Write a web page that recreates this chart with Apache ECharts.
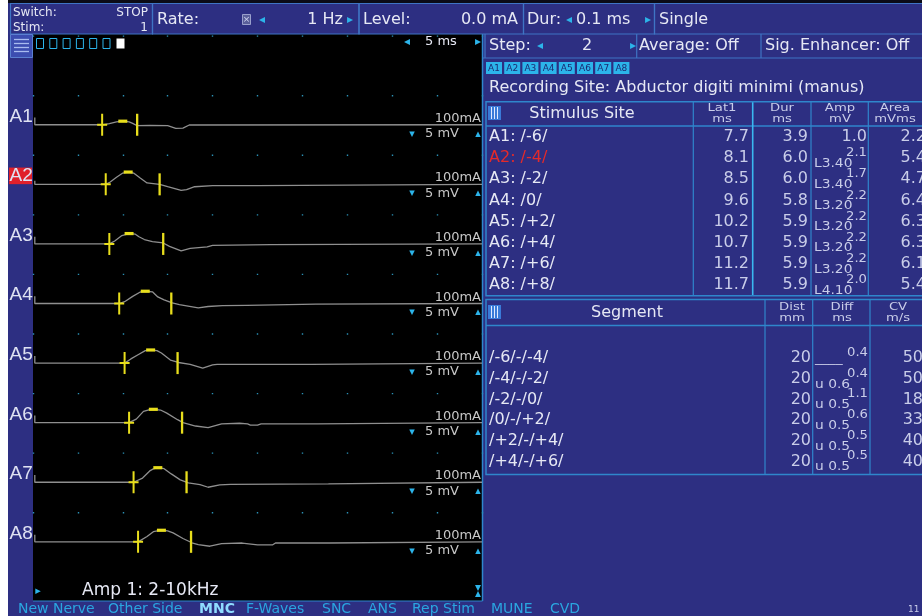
<!DOCTYPE html>
<html>
<head>
<meta charset="utf-8">
<script src="https://cdn.jsdelivr.net/npm/echarts/dist/echarts.min.js"></script>
<style>
html,body{margin:0;padding:0;background:#ffffff;}
#chart{width:922px;height:616px;}
</style>
</head>
<body>
<div id="chart"></div>
<script>
// ---- Sweep settings ----
const sweepMsPerDiv = 5;      // "5 ms" per horizontal division
const sensMvPerDiv = 5;       // "5 mV" per vertical division
const sweepDivs = 10;

// ---- Channels and measurement table ----
const channels   = ['A1', 'A2', 'A3', 'A4', 'A5', 'A6', 'A7', 'A8'];
const stimSites  = ['A1: /-6/', 'A2: /-4/', 'A3: /-2/', 'A4: /0/', 'A5: /+2/', 'A6: /+4/', 'A7: /+6/', 'A8: /+8/'];
const lat1       = [7.7, 8.1, 8.5, 9.6, 10.2, 10.7, 11.2, 11.7];
const dur        = [3.9, 6.0, 6.0, 5.8, 5.9, 5.9, 5.9, 5.9];
const amp        = [1.0, 2.1, 1.7, 2.2, 2.2, 2.2, 2.2, 2.0];
const ampLevel   = ['', 'L3.40', 'L3.40', 'L3.20', 'L3.20', 'L3.20', 'L3.20', 'L4.10'];
const areaVals   = [2.2, 5.4, 4.7, 6.4, 6.3, 6.3, 6.1, 5.4];
const activeChannel = 1;

// ---- Segment table ----
const segments   = ['/-6/-/-4/', '/-4/-/-2/', '/-2/-/0/', '/0/-/+2/', '/+2/-/+4/', '/+4/-/+6/'];
const segDist    = [20, 20, 20, 20, 20, 20];
const segDiff    = [0.4, 0.4, 1.1, 0.6, 0.5, 0.5];
const segDiffSub = ['____', 'u 0.6', 'u 0.5', 'u 0.5', 'u 0.5', 'u 0.5'];
const segCV      = [50, 50, 18, 33, 40, 40];

// ---- Menu ----
const menuItems  = ['New Nerve', 'Other Side', 'MNC', 'F-Waves', 'SNC', 'ANS', 'Rep Stim', 'MUNE', 'CVD'];
const menuX      = [18, 108, 199, 246, 322, 368, 412, 491, 550];

// ---- Recorded waveforms: [time ms, mV] ----
const waveA1 = [[0.2,0.6],[0.2,0],[7.7,0],[8.5,0.1],[9.3,0.25],[10.0,0.3],[10.7,0.24],[11.1,0.12],[11.6,-0.08],[13.0,-0.05],[15.0,-0.08],[15.9,-0.3],[16.7,-0.28],[17.4,-0.02],[50,0]];
const waveA2 = [[0.2,0.3],[0.2,0],[8.1,0],[8.6,0.2],[9.3,0.6],[10.0,0.95],[10.6,1.03],[11.2,0.95],[11.9,0.55],[12.7,0.12],[14.1,0],[15.0,-0.2],[16.5,-0.5],[17.1,-0.45],[18.0,-0.2],[20.0,-0.1],[25.0,-0.1],[25.2,0],[50,0]];
const waveA3 = [[0.2,0.6],[0.2,0],[8.5,0],[9.1,0.25],[9.9,0.7],[10.7,0.87],[11.4,0.82],[11.8,0.6],[12.4,0.37],[13.3,0.2],[14.5,0.08],[15.2,-0.2],[16.5,-0.58],[17.5,-0.38],[19.4,-0.25],[20.0,-0.12],[26.5,-0.05],[26.6,0],[50,0]];
const waveA4 = [[0.2,0.6],[0.2,0],[9.6,0],[10.2,0.15],[11.1,0.6],[11.9,0.95],[12.5,1.03],[13.3,0.98],[13.9,0.55],[14.6,0.3],[15.5,0.05],[16.3,-0.1],[18.4,-0.36],[19.5,-0.25],[21.1,-0.18],[23.8,-0.15],[24.0,-0.06],[31.5,-0.06],[31.6,0],[50,0]];
const waveA5 = [[0.2,0.6],[0.2,0],[10.2,0],[10.9,0.35],[11.7,0.7],[12.5,1.05],[13.1,1.1],[13.8,1.05],[14.3,0.85],[15.3,0.25],[16.2,0.05],[17.5,-0.1],[18.9,-0.42],[20.0,-0.15],[20.5,-0.1],[31.0,-0.1],[31.1,0],[50,0]];
const waveA6 = [[0.2,0.6],[0.2,0],[10.7,0],[11.5,0.3],[12.3,0.95],[12.9,1.08],[13.4,1.12],[14.2,1.06],[14.9,0.8],[16.1,0.25],[16.7,0],[18.1,-0.28],[19.5,-0.42],[21.0,-0.1],[23.0,-0.05],[23.9,-0.1],[24.2,-0.2],[25.0,-0.2],[25.4,-0.1],[31.7,-0.1],[31.8,0],[50,0]];
const waveA7 = [[0.2,0.6],[0.2,0],[11.2,0],[12.2,0.35],[13.0,0.95],[13.4,1.12],[13.9,1.22],[14.6,1.14],[15.4,0.7],[16.4,0.2],[17.3,-0.05],[18.6,-0.2],[19.5,-0.42],[20.8,-0.22],[22.0,-0.18],[32.9,-0.14],[33.0,0],[50,0]];
const waveA8 = [[0.2,0.6],[0.2,0],[11.7,0],[12.7,0.45],[13.4,0.85],[14.0,0.95],[14.3,0.97],[15.0,0.92],[15.6,0.75],[16.7,0.28],[17.7,-0.08],[18.4,-0.23],[19.7,-0.37],[21.0,-0.15],[23.3,-0.1],[25.0,-0.25],[26.7,-0.25],[27.0,-0.1],[33.0,-0.1],[33.1,0],[50,0]];
const waves = [waveA1, waveA2, waveA3, waveA4, waveA5, waveA6, waveA7, waveA8];

// ---- Layout / styling ----
const BLUE = '#2d2f82', LINE = '#2f86cc', BOX = '#3f74c4', TXT = '#e6e8f4', SUB = '#c9cde9';
const CYAN = '#2cb4ea', YEL = '#e8de1c', TRACE = '#8f8f8f', FONT = '"DejaVu Sans"';
const PL = 33, PW = 449, GTOP = 35.4, ROW = 59.58;

const els = [];
function T(x, y, s, o) {
  o = o || {};
  const font = (o.weight ? o.weight + ' ' : '') + (o.size || 16) + 'px ' + (o.family || FONT);
  els.push({type: 'text', x: x, y: y, z: o.z || 50, scaleX: o.sx || 1, silent: true,
    style: {text: s, fill: o.fill || TXT, font: font,
      align: o.align || 'left', verticalAlign: 'middle',
      textAlign: o.align || 'left', textVerticalAlign: 'middle'}});
}
function R(x, y, w, h, fill, o) {
  o = o || {};
  els.push({type: 'rect', z: o.z == null ? -20 : o.z, silent: true,
    shape: {x: x, y: y, width: w, height: h},
    style: {fill: fill || 'none', stroke: o.stroke || null, lineWidth: o.lw || 1}});
}
function L(x1, y1, x2, y2, stroke, lw, z) {
  els.push({type: 'line', z: z == null ? -5 : z, silent: true,
    shape: {x1: x1, y1: y1, x2: x2, y2: y2}, style: {stroke: stroke, lineWidth: lw || 1}});
}

// Frame and panels
R(8, 0, 914, 4, '#0b0b16', {z: -30});
R(8, 3, 914, 613, BLUE, {z: -30});
R(PL, 34, 449.5, 567, '#000000', {z: -25});
L(482.5, 34, 482.5, 601, LINE, 1.5);
L(33, 601, 482.5, 601, LINE, 1.2);

// Top control bar
[[10, 152], [152, 358.5], [358.5, 523], [523, 654], [654, 923]].forEach(function (b) {
  R(b[0] + 0.5, 3.5, b[1] - b[0], 30.5, null, {stroke: BOX, lw: 1.2, z: -4});
});
T(13, 13, 'Switch:', {size: 12});
T(148, 13, 'STOP', {size: 12, align: 'right'});
T(13, 28, 'Stim:', {size: 12});
T(148, 28, '1', {size: 12, align: 'right'});
T(157, 20, 'Rate:', {size: 16});
R(242.5, 14.5, 8, 10, '#5a5f9a', {stroke: '#9aa0cc', z: 5});
T(246.5, 19.5, '×', {size: 9, align: 'center', fill: '#cfd3f0'});
T(262, 20, '◂', {size: 12, fill: CYAN, align: 'center'});
T(343, 20, '1 Hz', {size: 16, align: 'right'});
T(350, 20, '▸', {size: 12, fill: CYAN, align: 'center'});
T(363, 20, 'Level:', {size: 16});
T(518, 20, '0.0 mA', {size: 16, align: 'right'});
T(527, 20, 'Dur:', {size: 16});
T(569, 20, '◂', {size: 12, fill: CYAN, align: 'center'});
T(576, 20, '0.1 ms', {size: 16});
T(648, 20, '▸', {size: 12, fill: CYAN, align: 'center'});
T(659, 20, 'Single', {size: 16});

// Second row: menu icon, buffers, sweep
R(10.5, 34.5, 22, 23, '#3c4db0', {stroke: '#5b7fd0', z: -4});
[39, 43, 47, 51].forEach(function (y) { L(14, y + 0.5, 29, y + 0.5, '#a9bbef', 1.3, 5); });
for (let k = 0; k < 6; k++) R(36.5 + 13.3 * k, 38.5, 7, 10, null, {stroke: CYAN, lw: 1, z: 5});
R(116.5, 38.5, 8, 10, '#ffffff', {z: 5});
T(407, 42, '◂', {size: 12, fill: CYAN, align: 'center'});
T(425, 42, sweepMsPerDiv + ' ms', {size: 13});
T(478, 42, '▸', {size: 12, fill: CYAN, align: 'center'});

// Right panel header rows
L(483, 58, 922, 58, BOX, 1.2);
[485, 636.7, 761].forEach(function (x) { L(x, 34, x, 58, BOX, 1.2); });
T(489, 46, 'Step:', {size: 16});
T(540, 46, '◂', {size: 12, fill: CYAN, align: 'center'});
T(587, 46, '2', {size: 16, align: 'center'});
T(633, 46, '▸', {size: 12, fill: CYAN, align: 'center'});
T(639, 46, 'Average: Off', {size: 16});
T(765, 46, 'Sig. Enhancer: Off', {size: 16});
channels.forEach(function (c, i) {
  R(486 + 18.2 * i, 62, 16, 12, CYAN, {z: 2});
  T(494 + 18.2 * i, 68.5, c, {size: 9, align: 'center', fill: '#1c2a72'});
});
T(489, 88, 'Recording Site: Abductor digiti minimi (manus)', {size: 16});

// Stimulus table
function gridIcon(y) {
  R(488, y, 13, 14, '#3a7ad8', {z: 3});
  [491.5, 494.5, 497.5].forEach(function (x) { L(x, y + 1, x, y + 13, '#dfe8ff', 1, 4); });
}
R(486, 101.7, 440, 194, null, {stroke: LINE, lw: 1.5, z: -4});
L(486, 126, 922, 126, LINE, 1.5);
[693.3, 811, 868.3].forEach(function (x) { L(x, 101.7, x, 295.7, LINE, 1.2); });
L(752.7, 101.7, 752.7, 295.7, '#3ab8f0', 1.6);
gridIcon(106);
T(582, 114, 'Stimulus Site', {size: 16, align: 'center'});
[['Lat1', 'ms', 722], ['Dur', 'ms', 782], ['Amp', 'mV', 840], ['Area', 'mVms', 895]].forEach(function (h) {
  T(h[2], 108, h[0], {size: 11, align: 'center', fill: SUB, sx: 1.2});
  T(h[2], 119.5, h[1], {size: 11, align: 'center', fill: SUB, sx: 1.2});
});
stimSites.forEach(function (s, i) {
  const y = 136.8 + 21.2 * i;
  const col = i === activeChannel ? '#e52a2a' : TXT;
  T(489, y, s, {size: 16, fill: col});
  T(749, y, lat1[i].toFixed(1), {size: 16, align: 'right', fill: SUB});
  T(808, y, dur[i].toFixed(1), {size: 16, align: 'right', fill: SUB});
  if (ampLevel[i]) {
    T(867, y - 5, amp[i].toFixed(1), {size: 12, align: 'right', fill: SUB, sx: 1.1});
    T(814, y + 5.5, ampLevel[i], {size: 12, fill: SUB, sx: 1.15});
  } else {
    T(867, y, amp[i].toFixed(1), {size: 16, align: 'right', fill: SUB});
  }
  T(926, y, areaVals[i].toFixed(1), {size: 16, align: 'right', fill: SUB});
});

// Segment table
R(486, 299.5, 440, 175, null, {stroke: LINE, lw: 1.5, z: -4});
L(486, 325.5, 922, 325.5, LINE, 1.5);
[765, 812.7, 870].forEach(function (x) { L(x, 299.5, x, 474.5, LINE, 1.2); });
gridIcon(305);
T(627, 312.5, 'Segment', {size: 16, align: 'center'});
[['Dist', 'mm', 792], ['Diff', 'ms', 842], ['CV', 'm/s', 898]].forEach(function (h) {
  T(h[2], 307, h[0], {size: 11, align: 'center', fill: SUB, sx: 1.2});
  T(h[2], 318.5, h[1], {size: 11, align: 'center', fill: SUB, sx: 1.2});
});
segments.forEach(function (s, i) {
  const y = 358.3 + 20.68 * i;
  T(489, y, s, {size: 16});
  T(811, y, String(segDist[i]), {size: 16, align: 'right', fill: SUB});
  T(868, y - 5.5, segDiff[i].toFixed(1), {size: 12, align: 'right', fill: SUB, sx: 1.1});
  const sub = segDiffSub[i];
  T(815, y + (sub.indexOf('_') === 0 ? 1 : 5.5), sub, {size: 12, fill: SUB, sx: 1.15});
  T(923, y, String(segCV[i]), {size: 16, align: 'right', fill: SUB});
});

// Trace row labels and per-channel settings
channels.forEach(function (c, i) {
  const base = GTOP + ROW * (i + 1) + ROW / 2;
  if (i === activeChannel) R(9, base - 16.8, 23, 16.6, '#e0202a', {z: 2});
  T(9.5, base - 8.3, c, {size: 19, family: '"Liberation Sans"', fill: '#dfe2f2'});
  T(481, base - 6.3, '100mA', {size: 13, align: 'right', fill: '#c8c8c8'});
  T(412, base + 9, '▾', {size: 11, align: 'center', fill: CYAN});
  T(425, base + 9, sensMvPerDiv + ' mV', {size: 13, fill: '#c8c8c8'});
  T(478, base + 9, '▴', {size: 11, align: 'center', fill: CYAN});
});
T(38, 591, '▸', {size: 11, fill: CYAN, align: 'center'});
T(82, 591, 'Amp 1: 2-10kHz', {size: 17});
els.push({type: 'polygon', z: 40, silent: true, shape: {points: [[475, 585], [481, 585], [478, 591], [481, 597], [475, 597], [478, 591]]}, style: {fill: CYAN}});

// Bottom menu
menuItems.forEach(function (m, i) {
  const bold = m === 'MNC';
  T(menuX[i], 609, m, {size: 14, fill: bold ? '#8fdcff' : '#2aa6e0', weight: bold ? 'bold' : null});
});
T(908, 610, '11', {size: 9, fill: '#c8cce8'});

// ---- Axes, grids and series ----
const grids = [{left: PL, top: GTOP, width: PW, height: ROW * 9}];
const xAxes = [{
  type: 'value', gridIndex: 0, min: 0, max: sweepMsPerDiv * sweepDivs, interval: sweepMsPerDiv,
  axisLine: {show: false}, axisTick: {show: false}, axisLabel: {show: false},
  splitLine: {show: true, lineStyle: {color: '#2a8fb4', width: 1.4, type: [1.4, ROW - 1.4]}}
}];
const yAxes = [{type: 'value', gridIndex: 0, min: 0, max: 9, show: false, splitLine: {show: false}}];
const series = [];

// Peak of the response: highest sample after the onset latency
function peakOf(w, onset) {
  let best = null;
  w.forEach(function (p) {
    if (p[0] >= onset && (best === null || p[1] > best[1])) best = p;
  });
  return best;
}

waves.forEach(function (w, i) {
  const g = i + 1;
  grids.push({left: PL, top: GTOP + ROW * (i + 1), width: PW, height: ROW});
  xAxes.push({type: 'value', gridIndex: g, min: 0, max: sweepMsPerDiv * sweepDivs, show: false});
  yAxes.push({type: 'value', gridIndex: g, min: -sensMvPerDiv / 2, max: sensMvPerDiv / 2, show: false});
  series.push({
    type: 'line', xAxisIndex: g, yAxisIndex: g, data: w, showSymbol: false, z: 5,
    lineStyle: {color: TRACE, width: 1.3}, silent: true, animation: false
  });
  series.push({
    type: 'scatter', xAxisIndex: g, yAxisIndex: g, z: 6, silent: true, animation: false,
    itemStyle: {color: YEL, opacity: 1},
    data: [
      {value: [lat1[i], 0], symbol: 'path://M4,0h2v10h4v2h-4v10h-2v-10h-4v-2h4z', symbolSize: [10, 22]},
      {value: peakOf(w, lat1[i]), symbol: 'rect', symbolSize: [9, 3.2]},
      {value: [lat1[i] + dur[i], 0], symbol: 'rect', symbolSize: [2.3, 22]}
    ]
  });
});

const chart = echarts.init(document.getElementById('chart'), null, {renderer: 'canvas'});
chart.setOption({
  backgroundColor: '#ffffff',
  animation: false,
  grid: grids,
  xAxis: xAxes,
  yAxis: yAxes,
  series: series,
  graphic: {elements: els}
});
</script>
</body>
</html>
